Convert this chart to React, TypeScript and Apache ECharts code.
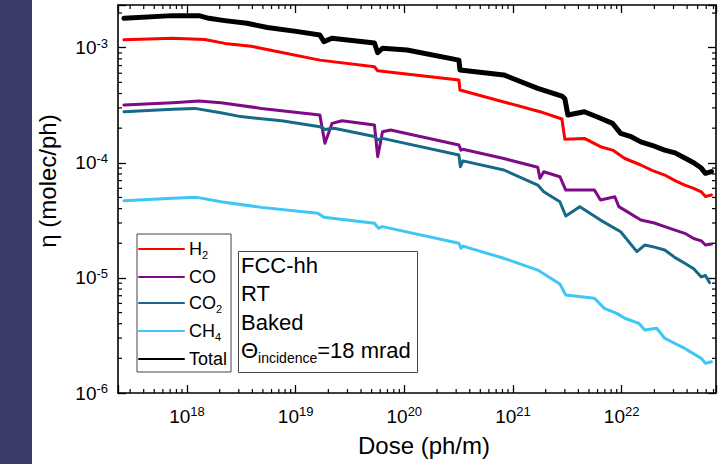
import React, { useEffect, useRef } from "react";
import * as echarts from "echarts";

const FONT = '"Liberation Sans", Arial, Helvetica, sans-serif';

// Axis ranges (log scale)
const X_MIN = 2.32e17;
const X_MAX = 7.38e22;
const Y_MIN = 1e-6;
const Y_MAX = 2.35e-3;
const xDecades = [17, 18, 19, 20, 21, 22];
const yDecades = [-6, -5, -4, -3];
const minorMantissas = [2, 3, 4, 5, 6, 7, 8, 9];

// Series data (dose in ph/m, eta in molec/ph)
const totalDose = [2.63e17, 7.38e17, 1.29e18, 1.59e18, 2.23e18, 3.56e18, 5.5e18, 1.05e19, 1.67e19, 1.82e19, 2.16e19, 5.31e19, 5.69e19, 6.3e19, 1.06e20, 3.18e20, 3.25e20, 8.24e20, 1.69e21, 2.82e21, 3.0e21, 3.2e21, 4.54e21, 6.38e21, 8.24e21, 9.79e21, 1.2e22, 1.5e22, 1.9e22, 2.49e22, 3.1e22, 3.81e22, 4.6e22, 5.4e22, 5.9e22, 6.7e22];
const totalEta = [1.8e-3, 1.9e-3, 1.9e-3, 1.8e-3, 1.72e-3, 1.63e-3, 1.5e-3, 1.38e-3, 1.29e-3, 1.13e-3, 1.21e-3, 1.1e-3, 9.05e-4, 9.9e-4, 9.55e-4, 7.8e-4, 6.4e-4, 5.8e-4, 4.43e-4, 3.8e-4, 3.6e-4, 2.6e-4, 2.78e-4, 2.44e-4, 2.2e-4, 1.8e-4, 1.7e-4, 1.52e-4, 1.42e-4, 1.29e-4, 1.22e-4, 1.1e-4, 1.0e-4, 9.0e-5, 8.1e-5, 8.4e-5];

const h2Dose = [2.63e17, 7.38e17, 1.46e18, 2.23e18, 3.88e18, 5.75e18, 1.67e19, 5.31e19, 5.69e19, 3.18e20, 3.25e20, 8.24e20, 1.77e21, 2.82e21, 3.0e21, 4.54e21, 6.38e21, 8.24e21, 1.07e22, 1.5e22, 1.9e22, 2.49e22, 3.1e22, 3.81e22, 4.6e22, 5.4e22, 5.9e22, 6.7e22];
const h2Eta = [1.17e-3, 1.21e-3, 1.18e-3, 1.09e-3, 1.03e-3, 9.55e-4, 7.8e-4, 6.84e-4, 6.3e-4, 5.24e-4, 4.29e-4, 3.38e-4, 2.78e-4, 2.4e-4, 1.6e-4, 1.63e-4, 1.38e-4, 1.29e-4, 1.09e-4, 9.57e-5, 8.6e-5, 7.83e-5, 7.0e-5, 6.41e-5, 6.0e-5, 5.6e-5, 5.1e-5, 5.25e-5];

const coDose = [2.63e17, 7.38e17, 1.29e18, 2.05e18, 4.84e18, 1.67e19, 1.86e19, 2.16e19, 2.67e19, 5.31e19, 5.69e19, 6.3e19, 7.48e19, 3.18e20, 3.32e20, 3.46e20, 8.24e20, 1.69e21, 1.77e21, 1.92e21, 2.7e21, 3.06e21, 5.62e21, 6.38e21, 8.65e21, 9.42e21, 1.5e22, 2.0e22, 2.49e22, 3.1e22, 3.81e22, 4.6e22, 5.4e22, 5.9e22, 6.7e22];
const coEta = [3.18e-4, 3.33e-4, 3.44e-4, 3.33e-4, 2.97e-4, 2.6e-4, 1.48e-4, 2.2e-4, 2.32e-4, 2.13e-4, 1.13e-4, 1.86e-4, 1.93e-4, 1.43e-4, 1.29e-4, 1.31e-4, 1.09e-4, 9.14e-5, 7.33e-5, 8.37e-5, 7.57e-5, 5.8e-5, 5.8e-5, 4.75e-5, 5.07e-5, 4.16e-5, 3.18e-5, 3.0e-5, 2.79e-5, 2.6e-5, 2.44e-5, 2.2e-5, 2.1e-5, 1.93e-5, 1.97e-5];

const co2Dose = [2.63e17, 7.38e17, 1.18e18, 2.05e18, 3.13e18, 7.43e18, 1.67e19, 1.86e19, 2.25e19, 5.31e19, 5.79e19, 6.3e19, 3.18e20, 3.28e20, 3.46e20, 8.24e20, 1.69e21, 1.92e21, 2.7e21, 3.06e21, 4.12e21, 6.38e21, 9.79e21, 1.38e22, 1.63e22, 2.0e22, 2.49e22, 3.1e22, 3.81e22, 4.6e22, 5.4e22, 5.9e22, 6.43e22];
const co2Eta = [2.78e-4, 2.92e-4, 2.97e-4, 2.72e-4, 2.52e-4, 2.32e-4, 2.06e-4, 1.95e-4, 2.0e-4, 1.69e-4, 1.58e-4, 1.63e-4, 1.17e-4, 9.25e-5, 1.04e-4, 8.66e-5, 6.41e-5, 5.61e-5, 4.59e-5, 3.45e-5, 4.16e-5, 3.18e-5, 2.52e-5, 1.69e-5, 1.93e-5, 1.85e-5, 1.75e-5, 1.5e-5, 1.34e-5, 1.2e-5, 1.02e-5, 1.05e-5, 9.1e-6];

const ch4Dose = [2.63e17, 7.38e17, 1.24e18, 2.05e18, 4.84e18, 1.6e19, 1.82e19, 5.31e19, 5.79e19, 6.3e19, 3.18e20, 3.32e20, 3.46e20, 8.24e20, 1.69e21, 2.7e21, 3.06e21, 5.62e21, 6.93e21, 9.02e21, 1.07e22, 1.44e22, 1.63e22, 2.1e22, 2.49e22, 3.81e22, 5.41e22, 5.9e22, 6.7e22];
const ch4Eta = [4.69e-5, 4.92e-5, 5.01e-5, 4.59e-5, 4.1e-5, 3.64e-5, 3.36e-5, 2.98e-5, 2.7e-5, 2.79e-5, 2.0e-5, 1.81e-5, 1.89e-5, 1.48e-5, 1.17e-5, 8.85e-6, 7.1e-6, 6.65e-6, 5.44e-6, 4.92e-6, 4.46e-6, 4.03e-6, 3.53e-6, 3.65e-6, 2.99e-6, 2.44e-6, 2.0e-6, 1.81e-6, 1.87e-6];

const seriesNames = ["H2", "CO", "CO2", "CH4", "Total"];
const seriesColors = ["#ff0000", "#7e0a88", "#166a87", "#3ec6f4", "#000000"];
const seriesWidths = [3, 3, 3, 3, 5];
const seriesDose = [h2Dose, coDose, co2Dose, ch4Dose, totalDose];
const seriesEta = [h2Eta, coEta, co2Eta, ch4Eta, totalEta];
const legendLabels: Record<string, string> = {
  H2: "{n|H}{sub|2}",
  CO: "{n|CO}",
  CO2: "{n|CO}{sub|2}",
  CH4: "{n|CH}{sub|4}",
  Total: "{n|Total}",
};

const xMinorTicks: number[] = [];
xDecades.forEach((e) => minorMantissas.forEach((m) => {
  const v = m * Math.pow(10, e);
  if (v > X_MIN && v < X_MAX) xMinorTicks.push(v);
}));
const yMinorTicks: number[] = [];
yDecades.forEach((e) => minorMantissas.forEach((m) => {
  const v = m * Math.pow(10, e);
  if (v > Y_MIN && v < Y_MAX) yMinorTicks.push(v);
}));

const powLabel = (val: number) => {
  const e = Math.log10(val);
  const r = Math.round(e);
  if (Math.abs(e - r) > 1e-6) return "";
  return `{b|10}{s|${r}}`;
};

const labelRich = {
  b: { fontSize: 19, fontFamily: FONT, color: "#000", lineHeight: 22 },
  s: { fontSize: 13, fontFamily: FONT, color: "#000", lineHeight: 13, verticalAlign: "top" },
};

const TICK = { show: true, inside: true, length: 8, lineStyle: { color: "#000", width: 1.3 } };
const LINE = { show: true, lineStyle: { color: "#000", width: 1.6 } };

export default function App() {
  const ref = useRef<HTMLDivElement>(null);
  useEffect(() => {
    document.body.style.margin = "0";
    const chart = echarts.init(ref.current!, null, { renderer: "svg" });
    const lineSeries = seriesNames.map((name, i) => ({
      name,
      type: "line",
      xAxisIndex: 0,
      yAxisIndex: 0,
      data: seriesDose[i].map((d, j) => [d, seriesEta[i][j]]),
      symbol: "none",
      showSymbol: false,
      lineStyle: { color: seriesColors[i], width: seriesWidths[i], join: "round", cap: "round" },
      itemStyle: { color: seriesColors[i] },
      z: 3,
    }));
    const minorStyle = { stroke: "#000", lineWidth: 1.2 };
    chart.setOption({
      animation: false,
      backgroundColor: "#ffffff",
      textStyle: { fontFamily: FONT },
      grid: { left: 118, top: 5, right: 9, bottom: 71, containLabel: false, outerBoundsMode: "none" },
      xAxis: [
        {
          type: "log", logBase: 10, min: X_MIN, max: X_MAX, position: "bottom",
          axisLine: LINE, axisTick: TICK, splitLine: { show: false },
          axisLabel: { formatter: powLabel, rich: labelRich, margin: 12 },
        },
        {
          type: "log", logBase: 10, min: X_MIN, max: X_MAX, position: "top",
          axisLine: LINE, axisTick: TICK, splitLine: { show: false }, axisLabel: { show: false },
        },
      ],
      yAxis: [
        {
          type: "log", logBase: 10, min: Y_MIN, max: Y_MAX, position: "left",
          axisLine: LINE, axisTick: TICK, splitLine: { show: false },
          axisLabel: { formatter: powLabel, rich: labelRich, margin: 10 },
        },
        {
          type: "log", logBase: 10, min: Y_MIN, max: Y_MAX, position: "right",
          axisLine: LINE, axisTick: TICK, splitLine: { show: false }, axisLabel: { show: false },
        },
      ],
      legend: {
        data: seriesNames,
        orient: "vertical",
        left: 137,
        top: 234,
        itemWidth: 45,
        itemHeight: 14,
        itemGap: 8,
        padding: [6, 4, 4, 1],
        borderColor: "#444",
        borderWidth: 1,
        backgroundColor: "#fff",
        selectedMode: false,
        itemStyle: { opacity: 0 },
        formatter: (name: string) => legendLabels[name],
        textStyle: {
          fontFamily: FONT,
          fontSize: 18,
          color: "#000",
          rich: {
            n: { fontSize: 18, fontFamily: FONT, color: "#000", lineHeight: 22 },
            sub: { fontSize: 11, fontFamily: FONT, color: "#000", lineHeight: 11, verticalAlign: "bottom" },
          },
        },
      },
      title: {
        text: "FCC-hh\nRT\nBaked\n{t|Θ}{s|incidence}{t|=18 mrad}",
        left: 238,
        top: 251,
        padding: [0, 7, 8, 3],
        borderColor: "#444",
        borderWidth: 1,
        backgroundColor: "#fff",
        textStyle: {
          fontFamily: FONT,
          fontSize: 22,
          fontWeight: "normal",
          color: "#000",
          lineHeight: 28.5,
          rich: {
            t: { fontSize: 22, fontFamily: FONT, color: "#000", lineHeight: 28.5 },
            s: { fontSize: 14, fontFamily: FONT, color: "#000", lineHeight: 14, verticalAlign: "bottom" },
          },
        },
      },
      graphic: [
        { type: "rect", z: -10, shape: { x: 0, y: 0, width: 32, height: 464 }, style: { fill: "#3b3b6b" } },
        {
          type: "text", x: 47, y: 181, rotation: Math.PI / 2,
          style: { text: "η (molec/ph)", font: `24px ${FONT}`, fill: "#000", align: "center", verticalAlign: "middle" },
        },
        {
          type: "text", x: 424, y: 445,
          style: { text: "Dose (ph/m)", font: `24px ${FONT}`, fill: "#000", align: "center", verticalAlign: "middle" },
        },
      ],
      series: [
        ...lineSeries,
        {
          type: "custom",
          name: "xMinor",
          silent: true,
          xAxisIndex: 0,
          yAxisIndex: 0,
          data: xMinorTicks.map((v) => [v, 1e-5]),
          renderItem: (params: any, api: any) => {
            const cs = params.coordSys;
            const x = api.coord([api.value(0), 1e-5])[0];
            return {
              type: "group",
              children: [
                { type: "line", shape: { x1: x, y1: cs.y + cs.height, x2: x, y2: cs.y + cs.height - 4 }, style: minorStyle },
                { type: "line", shape: { x1: x, y1: cs.y, x2: x, y2: cs.y + 4 }, style: minorStyle },
              ],
            };
          },
          z: 5,
        },
        {
          type: "custom",
          name: "yMinor",
          silent: true,
          xAxisIndex: 0,
          yAxisIndex: 0,
          data: yMinorTicks.map((v) => [1e19, v]),
          renderItem: (params: any, api: any) => {
            const cs = params.coordSys;
            const y = api.coord([1e19, api.value(1)])[1];
            return {
              type: "group",
              children: [
                { type: "line", shape: { x1: cs.x, y1: y, x2: cs.x + 4, y2: y }, style: minorStyle },
                { type: "line", shape: { x1: cs.x + cs.width, y1: y, x2: cs.x + cs.width - 4, y2: y }, style: minorStyle },
              ],
            };
          },
          z: 5,
        },
      ],
    });
    return () => chart.dispose();
  }, []);
  return <div ref={ref} style={{ width: 725, height: 464 }} />;
}
